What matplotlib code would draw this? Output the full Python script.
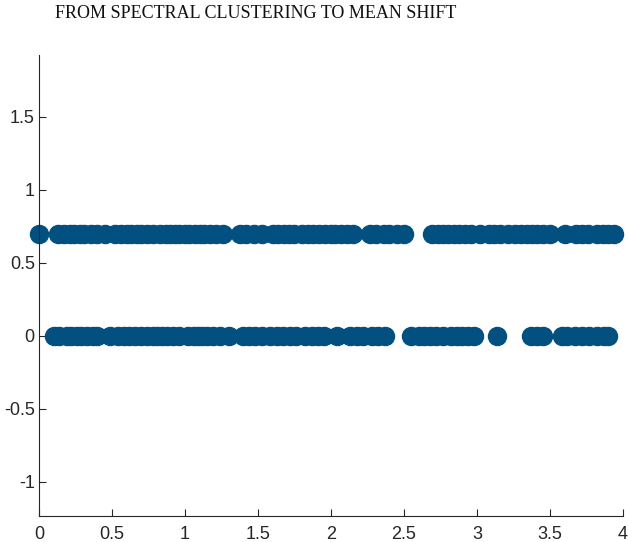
import matplotlib
matplotlib.use('Agg')
import matplotlib.pyplot as plt

# points on the upper row (y = 0.7)
upper_x = [0.0,
           0.13, 0.17, 0.21, 0.24, 0.28, 0.31, 0.36, 0.40, 0.45, 0.52, 0.56, 0.60,
           0.63, 0.67, 0.70, 0.74, 0.78, 0.83, 0.87, 0.90, 0.93, 0.96, 1.00, 1.03,
           1.07, 1.10, 1.13, 1.17, 1.21, 1.26,
           1.38, 1.42, 1.47, 1.53, 1.60, 1.64, 1.68, 1.71, 1.75, 1.80, 1.84, 1.88,
           1.92, 1.96, 2.00, 2.03, 2.07, 2.11, 2.15,
           2.27, 2.31, 2.36, 2.40, 2.45, 2.50,
           2.69, 2.73, 2.77, 2.80, 2.84, 2.88, 2.92, 2.96, 3.02, 3.08, 3.12, 3.16,
           3.21, 3.26, 3.30, 3.34, 3.38, 3.41, 3.45, 3.50, 3.60, 3.68, 3.72, 3.76,
           3.82, 3.86, 3.90, 3.94]
upper_y = 0.7

# points on the lower row (y = 0)
lower_x = [0.10, 0.14, 0.19, 0.22, 0.26, 0.29, 0.33, 0.37, 0.40, 0.49, 0.54, 0.58,
           0.62, 0.66, 0.70, 0.74, 0.78, 0.81, 0.84, 0.88, 0.92, 0.96, 1.02, 1.06,
           1.09, 1.12, 1.15, 1.19, 1.24, 1.30, 1.40, 1.44, 1.48, 1.53, 1.58, 1.63,
           1.67, 1.72, 1.76, 1.82, 1.87, 1.91, 1.95, 2.04, 2.13, 2.18, 2.22, 2.28,
           2.32, 2.37, 2.55, 2.60, 2.64, 2.68, 2.72, 2.77, 2.82, 2.86, 2.90, 2.94,
           2.98, 3.14, 3.37, 3.41, 3.45, 3.58, 3.62, 3.67, 3.72, 3.77, 3.82, 3.87,
           3.90]
lower_y = 0.0

x_ticks = [0, 0.5, 1, 1.5, 2, 2.5, 3, 3.5, 4]
x_labels = ['0', '0.5', '1', '1.5', '2', '2.5', '3', '3.5', '4']
y_ticks = [-1, -0.5, 0, 0.5, 1, 1.5]
y_labels = ['-1', '-0.5', '0', '0.5', '1', '1.5']

title = 'FROM SPECTRAL CLUSTERING TO MEAN SHIFT'

plt.rcParams['font.family'] = ['Liberation Sans', 'DejaVu Sans']

fig = plt.figure(figsize=(6.28, 5.42), dpi=100)
ax = fig.add_axes([0.062, 0.048, 0.930, 0.851])

dot = '#02507f'
ax.plot(upper_x, [upper_y] * len(upper_x), 'o', ms=13, color=dot, mec=dot,
        clip_on=False)
ax.plot(lower_x, [lower_y] * len(lower_x), 'o', ms=13, color=dot, mec=dot,
        clip_on=False)

ax.set_xlim(0, 4)
ax.set_ylim(-1.233, 1.925)
ax.set_xticks(x_ticks)
ax.set_xticklabels(x_labels)
ax.set_yticks(y_ticks)
ax.set_yticklabels(y_labels)

for side in ['top', 'right']:
    ax.spines[side].set_visible(False)
for side in ['left', 'bottom']:
    ax.spines[side].set_color('#262626')
    ax.spines[side].set_linewidth(0.8)
ax.tick_params(direction='in', length=5, width=0.8, colors='#262626',
               labelsize=13)
ax.tick_params(axis='x', pad=7)
ax.tick_params(axis='y', pad=3)
for lbl in ax.get_xticklabels() + ax.get_yticklabels():
    lbl.set_color('#262626')

fig.text(0.407, 0.975, title, ha='center', va='center',
         family='Liberation Serif', fontsize=13, color='#111111')

fig.savefig('out.png', dpi=100)
